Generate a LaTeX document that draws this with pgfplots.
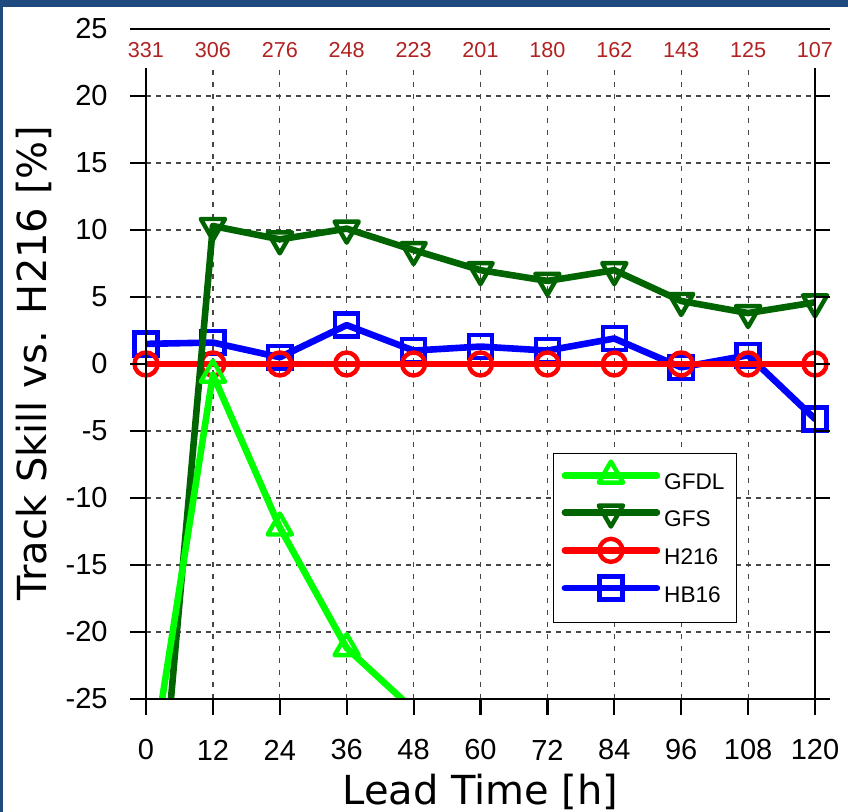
\documentclass[border=0pt]{standalone}
\usepackage{pgfplots}
\pgfplotsset{compat=1.18}
\usepackage{fontspec}
\setmainfont{Liberation Sans}
\newfontfamily\dejavu{DejaVu Sans}
\definecolor{frameblue}{RGB}{31,74,125}
\definecolor{cgfdl}{RGB}{0,255,0}
\definecolor{cgfs}{RGB}{0,100,0}
\definecolor{chh}{RGB}{255,0,0}
\definecolor{chb}{RGB}{0,0,255}
\definecolor{cnt}{RGB}{178,34,34}
\definecolor{gridc}{RGB}{70,70,70}
\begin{document}
\begin{tikzpicture}
\useasboundingbox (0pt,0pt) rectangle (424pt,406pt);
\fill[frameblue] (0pt,0pt) rectangle (424pt,406pt);
\fill[white] (1.5pt,0pt) rectangle (424pt,402.5pt);
\begin{axis}[
  at={(73pt,56.5pt)}, anchor=south west,
  scale only axis, width=334.5pt, height=335pt,
  xmin=0, xmax=120, ymin=-25, ymax=25,
  clip mode=individual,
  axis line style={draw=none},
  major tick length=0pt,
  xtick={0,12,...,120},
  ytick={-25,-20,...,25},
  yticklabels={-25,-20,-15,-10,-5,0,5,10,15,20,25},
  /pgf/number format/assume math mode=true,
  xticklabel style={font=\fontsize{14.5}{14.5}\selectfont, anchor=center, yshift=-25.5pt, inner sep=0pt},
  yticklabel style={font=\fontsize{14.5}{14.5}\selectfont, anchor=east, xshift=-19pt, inner sep=0pt},
  every axis plot/.append style={line width=3.3pt, line join=round, line cap=round},
  legend image code/.code={\draw[mark repeat=2,mark phase=2,#1,yshift=3.9pt] plot coordinates {(0pt,0pt) (23pt,0pt) (46pt,0pt)};},
  legend style={at={(0.6084,0.3672)}, anchor=north west, draw=black, line width=0.6pt,
    font=\fontsize{11.3}{11.3}\selectfont, inner xsep=4pt, inner ysep=4pt, row sep=0pt,
    nodes={text height=12.5pt, text depth=6pt, inner ysep=0pt},
    column 2/.style={text width=40pt, align=left}},
  legend cell align=left,
  reverse legend,
]
% grid
\pgfplotsinvokeforeach{12,24,36,48,60,72,84,96,108}{
  \draw[gridc, line width=0.6pt, dash pattern=on 2.5pt off 3.5pt] (#1,-25) -- (#1,22.1);
}
\pgfplotsinvokeforeach{-20,-15,-10,-5,0,5,10,15,20}{
  \draw[gridc, line width=0.6pt, dash pattern=on 2.5pt off 2.5pt] (0,#1) -- (120,#1);
}
\addplot[chb, mark=square, mark size=5.75pt, mark options={line width=2.2pt, line join=miter}] coordinates {
 (0,1.5) (12,1.6) (24,0.5) (36,2.9) (48,1.0) (60,1.3) (72,1.0) (84,1.9) (96,-0.25) (108,0.65) (120,-4.1)};
\addlegendentry{HB16}
\addplot[chh, mark=o, mark size=5.75pt, mark options={line width=2.2pt}] coordinates {
 (0,0) (12,0) (24,0) (36,0) (48,0) (60,0) (72,0) (84,0) (96,0) (108,0) (120,0)};
\addlegendentry{H216}
\addplot[cgfs, mark=triangle, mark size=7pt, mark options={line width=2.2pt, rotate=180, line join=round}] coordinates {
 (0,-46) (12,10.3) (24,9.3) (36,10.1) (48,8.5) (60,7.0) (72,6.2) (84,7.0) (96,4.7) (108,3.8) (120,4.6)};
\addlegendentry{GFS}
\addplot[cgfdl, mark=triangle, mark size=7pt, mark options={line width=2.2pt, line join=round}] coordinates {
 (0,-32.7) (12,-0.8) (24,-12.2) (36,-21.2) (48,-25.8)};
\addlegendentry{GFDL}
% frame
\draw[black, line width=1.1pt] (-2.87,25) -- (122.7,25);
\draw[black, line width=1.1pt] (-2.87,-25) -- (122.7,-25);
\draw[black, line width=1.1pt] (0,-26.19) -- (0,22.1);
\draw[black, line width=1.1pt] (120,-26.19) -- (120,22.1);
\pgfplotsinvokeforeach{-20,-15,-10,-5,0,5,10,15,20}{
  \draw[black, line width=1.1pt] (-2.87,#1) -- (0,#1);
  \draw[black, line width=1.1pt] (120,#1) -- (122.7,#1);
}
\pgfplotsinvokeforeach{12,24,36,48,60,72,84,96,108}{
  \draw[black, line width=1.1pt] (#1,-25) -- (#1,-26.19);
}
% counts
\node[text=cnt, font=\fontsize{10.8}{10.8}\selectfont] at (0,23.43) {331};
\node[text=cnt, font=\fontsize{10.8}{10.8}\selectfont] at (12,23.43) {306};
\node[text=cnt, font=\fontsize{10.8}{10.8}\selectfont] at (24,23.43) {276};
\node[text=cnt, font=\fontsize{10.8}{10.8}\selectfont] at (36,23.43) {248};
\node[text=cnt, font=\fontsize{10.8}{10.8}\selectfont] at (48,23.43) {223};
\node[text=cnt, font=\fontsize{10.8}{10.8}\selectfont] at (60,23.43) {201};
\node[text=cnt, font=\fontsize{10.8}{10.8}\selectfont] at (72,23.43) {180};
\node[text=cnt, font=\fontsize{10.8}{10.8}\selectfont] at (84,23.43) {162};
\node[text=cnt, font=\fontsize{10.8}{10.8}\selectfont] at (96,23.43) {143};
\node[text=cnt, font=\fontsize{10.8}{10.8}\selectfont] at (108,23.43) {125};
\node[text=cnt, font=\fontsize{10.8}{10.8}\selectfont] at (120,23.43) {107};
\end{axis}
\node[rotate=90, anchor=base, font=\dejavu\fontsize{20}{20}\selectfont] at (23.5pt,224.5pt) {Track Skill vs. H216 [\%]};
\node[anchor=base, font=\dejavu\fontsize{20}{20}\selectfont] at (240.25pt,3.6pt) {Lead Time [h]};
\end{tikzpicture}
\end{document}
